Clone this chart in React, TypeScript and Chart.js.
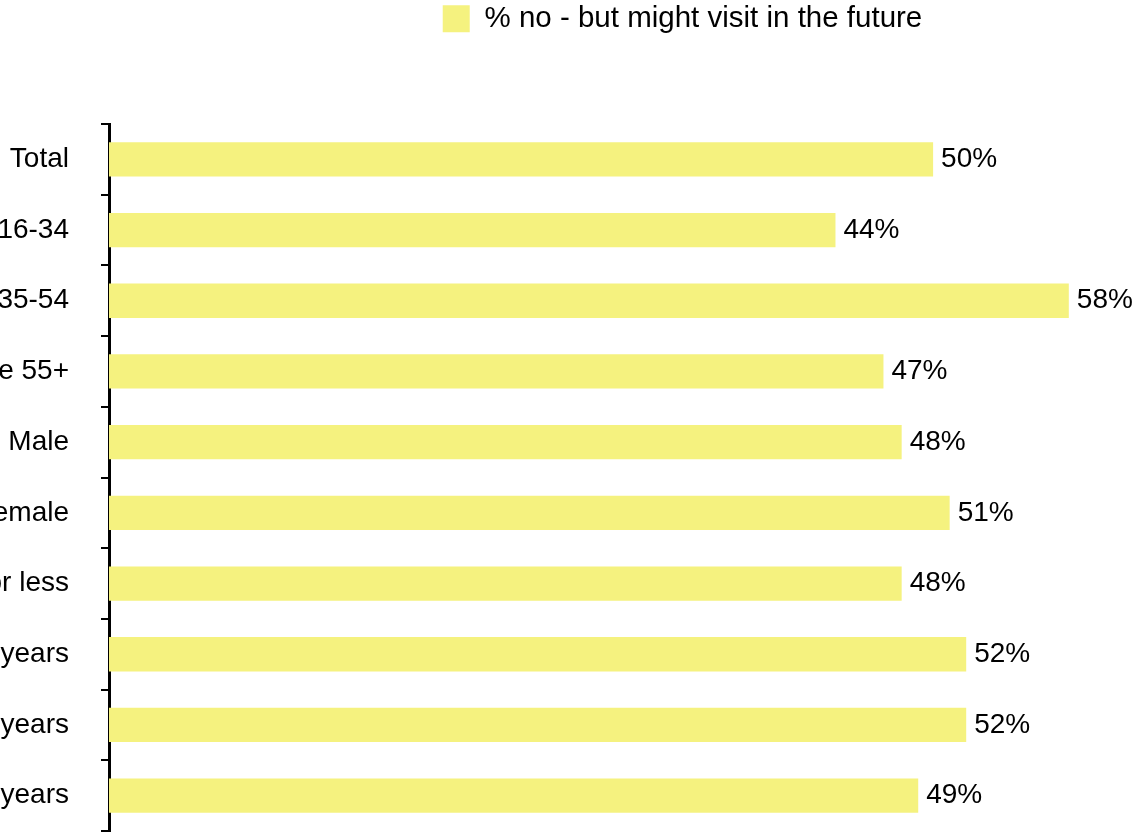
import React, { useEffect, useRef } from 'react';
import { Chart, registerables } from 'chart.js';

Chart.register(...registerables);

// ---- data ----
const categories = [
  'Total',
  'Age 16-34',
  'Age 35-54',
  'Age 55+',
  'Male',
  'Female',
  '1 year or less',
  '2-5 years',
  '6-10 years',
  '11+ years',
];
const values = [49.8, 43.9, 58.0, 46.8, 47.9, 50.8, 47.9, 51.8, 51.8, 48.9];
const seriesName = '% no - but might visit in the future';

// ---- styling ----
const BAR_COLOR = '#f5f27f';
const FONT_FAMILY = '"Liberation Sans", Arial, Helvetica, sans-serif';
const FONT_SIZE = 28;
const LEGEND_FONT_SIZE = 29.5;

// canvas geometry (canvas extends beyond the visible area; the frame clips it)
const OFFSET_X = 300;
const CANVAS_W = 1886;
const CANVAS_H = 835;
const Y_AXIS_W = 330;
const RIGHT_SPACER_W = 451;
const CHART_TOP = 124;
const CHART_BOTTOM_PAD = 4;

const valueLabelPlugin = {
  id: 'valueLabels',
  afterDatasetsDraw(chart: any) {
    const ctx = chart.ctx;
    const meta = chart.getDatasetMeta(0);
    ctx.save();
    ctx.font = `${FONT_SIZE}px ${FONT_FAMILY}`;
    ctx.fillStyle = '#000';
    ctx.textAlign = 'left';
    ctx.textBaseline = 'middle';
    meta.data.forEach((bar: any, i: number) => {
      const v = chart.data.datasets[0].data[i] as number;
      ctx.fillText(`${Math.round(v)}%`, bar.x + 8, bar.y);
    });
    ctx.restore();
  },
};

export default function App() {
  const canvasRef = useRef<HTMLCanvasElement | null>(null);

  useEffect(() => {
    document.body.style.margin = '0';
    const canvas = canvasRef.current;
    if (!canvas) return;
    const chart = new Chart(canvas, {
      type: 'bar',
      data: {
        labels: categories,
        datasets: [
          {
            label: seriesName,
            data: values,
            backgroundColor: BAR_COLOR,
            borderWidth: 0,
            barPercentage: 0.485,
            categoryPercentage: 1,
          },
        ],
      },
      options: {
        indexAxis: 'y',
        responsive: false,
        maintainAspectRatio: false,
        animation: false,
        layout: {
          padding: { left: OFFSET_X + 109 - Y_AXIS_W, top: 0, right: 0, bottom: CHART_BOTTOM_PAD },
        },
        plugins: {
          legend: {
            position: 'top',
            labels: {
              color: '#000',
              boxWidth: 27,
              boxHeight: 27,
              padding: 4,
              font: { family: FONT_FAMILY, size: LEGEND_FONT_SIZE },
            },
          },
          tooltip: { enabled: false },
        },
        scales: {
          x: {
            position: 'top',
            min: 0,
            max: 62,
            grid: { display: false },
            border: { display: false },
            ticks: { display: false },
            afterFit(scale: any) {
              const lh = scale.chart.legend ? scale.chart.legend.height : 0;
              scale.height = Math.max(0, CHART_TOP - lh);
            },
          },
          y: {
            position: 'left',
            grid: {
              display: true,
              drawOnChartArea: false,
              drawTicks: true,
              tickLength: 8,
              color: '#000',
              lineWidth: 2,
            },
            border: { display: true, color: '#000', width: 3 },
            ticks: {
              color: '#000',
              padding: 32,
              font: { family: FONT_FAMILY, size: FONT_SIZE },
            },
            afterFit(scale: any) {
              scale.width = Y_AXIS_W;
              scale.paddingTop = 0;
              scale.paddingBottom = 0;
            },
          },
          spacer: {
            type: 'linear',
            position: 'right',
            grid: { display: false },
            border: { display: false },
            ticks: { display: false },
            afterFit(scale: any) {
              scale.width = RIGHT_SPACER_W;
            },
          },
        },
      } as any,
      plugins: [valueLabelPlugin],
    });
    return () => chart.destroy();
  }, []);

  return (
    <div
      style={{
        position: 'relative',
        width: 1139,
        height: 835,
        overflow: 'hidden',
        background: '#fff',
      }}
    >
      <canvas
        ref={canvasRef}
        width={CANVAS_W}
        height={CANVAS_H}
        style={{ position: 'absolute', left: -OFFSET_X, top: 0, width: CANVAS_W, height: CANVAS_H }}
      />
    </div>
  );
}
